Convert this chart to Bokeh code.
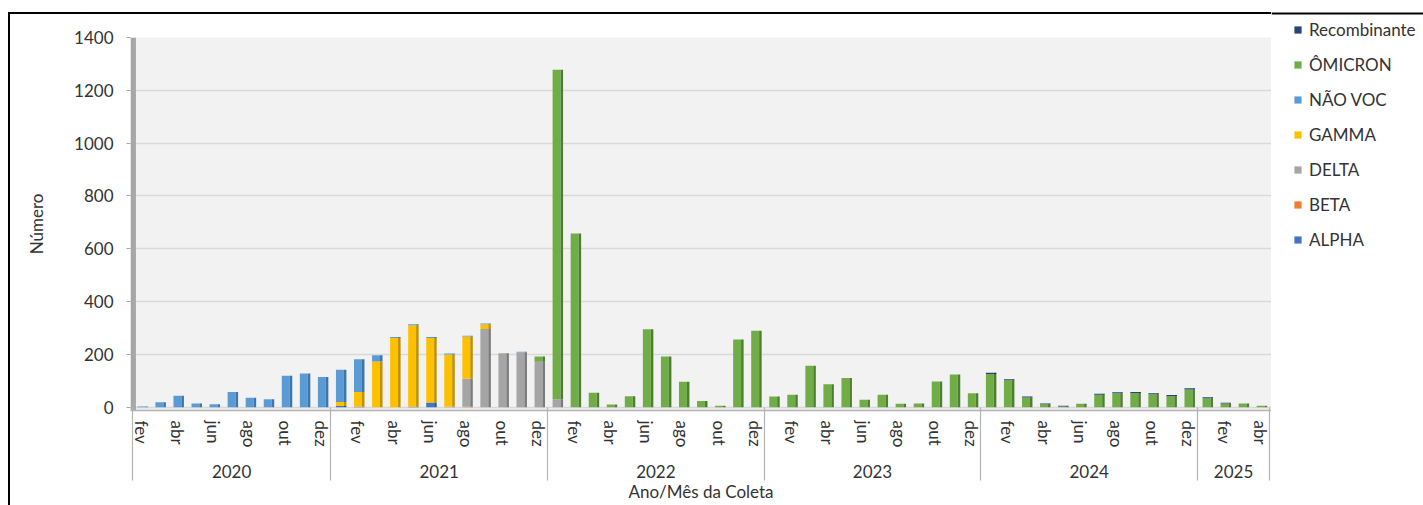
from bokeh.plotting import figure
from bokeh.layouts import row
from bokeh.models import ColumnDataSource, Range1d, FixedTicker, LinearAxis, Legend, LegendItem, Span
from bokeh.embed import file_html
from bokeh.resources import INLINE

# ---------------- data ----------------
anos = ["2020", "2021", "2022", "2023", "2024", "2025"]
meses_2020 = ["fev", "mar", "abr", "mai", "jun", "jul", "ago", "set", "out", "nov", "dez"]
meses_ano = ["jan", "fev", "mar", "abr", "mai", "jun", "jul", "ago", "set", "out", "nov", "dez"]
meses_2025 = ["jan", "fev", "mar", "abr"]
meses_rotulados = ["fev", "abr", "jun", "ago", "out", "dez"]

alpha = [0, 0, 0, 0, 0, 0, 0, 0, 0, 0, 0,
         5, 2, 0, 0, 2, 18, 0, 0, 0, 0, 0, 0,
         0, 0, 0, 0, 0, 0, 0, 0, 0, 0, 0, 0,
         0, 0, 0, 0, 0, 0, 0, 0, 0, 0, 0, 0,
         0, 0, 0, 0, 0, 0, 0, 0, 0, 0, 0, 0,
         0, 0, 0, 0]
beta = [0, 0, 0, 0, 0, 0, 0, 0, 0, 0, 0,
        0, 0, 0, 0, 0, 0, 0, 2, 0, 0, 0, 0,
        0, 0, 0, 0, 0, 0, 0, 0, 0, 0, 0, 0,
        0, 0, 0, 0, 0, 0, 0, 0, 0, 0, 0, 0,
        0, 0, 0, 0, 0, 0, 0, 0, 0, 0, 0, 0,
        0, 0, 0, 0]
delta = [0, 0, 0, 0, 0, 0, 0, 0, 0, 0, 0,
         0, 0, 0, 0, 0, 0, 2, 106, 296, 203, 208, 172,
         30, 0, 0, 0, 0, 0, 0, 0, 0, 0, 0, 0,
         0, 0, 0, 0, 0, 0, 0, 0, 0, 0, 0, 0,
         0, 0, 0, 0, 0, 0, 0, 0, 0, 0, 0, 0,
         0, 0, 0, 0]
gamma = [0, 0, 0, 0, 0, 0, 0, 0, 0, 0, 0,
         15, 56, 173, 262, 308, 244, 198, 160, 18, 1, 0, 0,
         0, 0, 0, 0, 0, 0, 0, 0, 0, 0, 0, 0,
         0, 0, 0, 0, 0, 0, 0, 0, 0, 0, 0, 0,
         0, 0, 0, 0, 0, 0, 0, 0, 0, 0, 0, 0,
         0, 0, 0, 0]
nao_voc = [3, 19, 43, 14, 11, 58, 36, 30, 119, 128, 114,
           122, 124, 24, 4, 4, 4, 3, 3, 3, 1, 2, 0,
           0, 0, 0, 0, 0, 0, 0, 0, 0, 0, 0, 0,
           0, 0, 0, 0, 0, 0, 0, 0, 0, 0, 0, 0,
           0, 0, 0, 0, 0, 0, 0, 0, 0, 0, 0, 0,
           0, 0, 0, 0]
omicron = [0, 0, 0, 0, 0, 0, 0, 0, 0, 0, 0,
           0, 0, 0, 0, 0, 0, 0, 0, 0, 0, 0, 20,
           1248, 658, 55, 10, 42, 295, 192, 96, 24, 6, 256, 290,
           41, 47, 157, 87, 111, 28, 47, 13, 14, 97, 124, 53,
           126, 102, 37, 11, 3, 13, 47, 53, 54, 49, 42, 67,
           34, 14, 14, 6]
recombinante = [0, 0, 0, 0, 0, 0, 0, 0, 0, 0, 0,
                0, 0, 0, 0, 0, 0, 0, 0, 0, 0, 0, 0,
                0, 0, 0, 0, 0, 0, 0, 0, 0, 0, 0, 0,
                0, 0, 0, 0, 0, 0, 0, 0, 0, 0, 0, 0,
                5, 4, 4, 3, 3, 0, 4, 4, 4, 4, 4, 5,
                4, 3, 0, 0]

series = ["alpha", "beta", "delta", "gamma", "nao_voc", "omicron", "recombinante"]
nomes = ["ALPHA", "BETA", "DELTA", "GAMMA", "NÃO VOC", "ÔMICRON", "Recombinante"]
cores = ["#4472C4", "#ED7D31", "#A5A5A5", "#FFC000", "#5B9BD5", "#70AD47", "#264478"]
cores_lado = ["#2F5597", "#B85F22", "#7B7B7B", "#BF9000", "#3F76A8", "#4E7F2F", "#17294A"]

# ---------------- layout helpers ----------------
meses_por_ano = [meses_2020, meses_ano, meses_ano, meses_ano, meses_ano, meses_2025]
rotulos = [m for grupo in meses_por_ano for m in grupo]
n = len(rotulos)
xs = list(range(n))

limites = [-0.5]
centros = []
ini = 0
for grupo in meses_por_ano:
    fim = ini + len(grupo) - 1
    centros.append((ini + fim) / 2)
    limites.append(fim + 0.5)
    ini = fim + 1

tick_mes = [i for i, m in enumerate(rotulos) if m in meses_rotulados]

source = ColumnDataSource(dict(
    x=xs, x_lado=[i + 0.29 for i in xs],
    alpha=alpha, beta=beta, delta=delta, gamma=gamma,
    nao_voc=nao_voc, omicron=omicron, recombinante=recombinante,
))

FONT = "Lato"
FS = "17px"
TXT = "#333333"
SEP = "#B4B4B4"

y0, y1 = -12.4, 1400
p = figure(width=1271, height=505,
           x_range=Range1d(-0.6, n - 1 + 0.6), y_range=Range1d(y0, y1),
           output_backend="svg", toolbar_location=None, title=None,
           min_border_left=130, min_border_right=0,
           min_border_top=37, min_border_bottom=95)
p.background_fill_color = "#F2F2F2"
p.border_fill_color = "white"
p.border_fill_alpha = 0
p.outline_line_color = None
p.styles = {"box-shadow": "inset 0 12px 0 0 #ffffff, inset 8px 0 0 0 #ffffff, "
                          "inset 10px 14px 0 0 #000000"}

# grid
yt = FixedTicker(ticks=[0, 200, 400, 600, 800, 1000, 1200, 1400])
p.ygrid.ticker = yt
p.ygrid.grid_line_color = "#D9D9D9"
p.ygrid.grid_line_width = 1.6
p.xgrid.visible = False

# left 3D wall
p.quad(left=-0.6, right=-0.3, bottom=y0, top=y1, fill_color="#A6A6A6", line_color=None)

# bars: front faces and darker side faces
frentes = p.vbar_stack(series, x="x", width=0.44, fill_color=cores, line_color=None, source=source)
p.vbar_stack(series, x="x_lado", width=0.14, fill_color=cores_lado, line_color=None, source=source)

# y axis
ya = p.yaxis[0]
ya.ticker = yt
ya.axis_line_color = None
ya.major_tick_out = 4
ya.major_tick_in = 0
ya.major_tick_line_color = "#A6A6A6"
ya.minor_tick_line_color = None
ya.major_label_standoff = 13
ya.major_label_text_font = FONT
ya.major_label_text_font_size = FS
ya.major_label_text_color = TXT
ya.axis_label = "Número"
ya.axis_label_text_font = FONT
ya.axis_label_text_font_size = FS
ya.axis_label_text_font_style = "normal"
ya.axis_label_text_color = TXT
ya.axis_label_standoff = 24

# x axis (months)
xa = p.xaxis[0]
xa.ticker = FixedTicker(ticks=tick_mes, minor_ticks=[])
xa.major_label_overrides = {i: rotulos[i] for i in tick_mes}
xa.major_label_orientation = "vertical"
xa.major_tick_in = 0
xa.major_tick_out = 0
xa.major_tick_line_color = None
xa.minor_tick_line_color = None
xa.axis_line_color = SEP
xa.axis_line_width = 1.5
xa.major_label_standoff = 10
xa.major_label_text_font = FONT
xa.major_label_text_font_size = FS
xa.major_label_text_color = TXT

# x axis (years)
xa2 = LinearAxis(ticker=FixedTicker(ticks=centros, minor_ticks=[]),
                 major_label_overrides={c: a for c, a in zip(centros, anos)})
xa2.axis_line_color = None
xa2.major_tick_line_color = None
xa2.minor_tick_line_color = None
xa2.major_tick_in = 0
xa2.major_tick_out = 0
xa2.major_label_standoff = 14
xa2.major_label_text_font = FONT
xa2.major_label_text_font_size = FS
xa2.major_label_text_color = TXT
p.add_layout(xa2, "below")

# x axis (group separators pointing up + title)
xa3 = LinearAxis(ticker=FixedTicker(ticks=[], minor_ticks=limites))
xa3.axis_line_color = None
xa3.major_tick_line_color = None
xa3.major_tick_in = 0
xa3.major_tick_out = 0
xa3.minor_tick_in = 73
xa3.minor_tick_out = 0
xa3.minor_tick_line_color = SEP
xa3.minor_tick_line_width = 1.2
xa3.major_label_standoff = 0
xa3.major_label_text_font_size = "0px"
xa3.axis_label = "Ano/Mês da Coleta"
xa3.axis_label_text_font = FONT
xa3.axis_label_text_font_size = FS
xa3.axis_label_text_font_style = "normal"
xa3.axis_label_text_color = TXT
xa3.axis_label_standoff = 0
p.add_layout(xa3, "below")

# ---------------- legend panel (own canvas, right of the chart) ----------------
q = figure(width=152, height=505, x_range=Range1d(0, 1), y_range=Range1d(0, 1),
           output_backend="svg", toolbar_location=None, title=None,
           x_axis_location=None, y_axis_location=None, min_border=0)
q.frame_align = False
q.grid.visible = False
q.outline_line_color = None
q.background_fill_alpha = 0
q.border_fill_color = "white"
q.border_fill_alpha = 0

# continuation of the chart's outer top border line
q.add_layout(Span(location=1 - 13 / 505, dimension="width", line_color="black", line_width=2))

# swatch renderers kept far outside this panel's ranges (legend glyphs only)
marcas = [q.vbar(x=[50], top=[-50], bottom=[-51], width=0.1, fill_color=c, line_color=None)
          for c in cores]
itens = [LegendItem(label=nomes[k], renderers=[marcas[k]]) for k in reversed(range(len(series)))]
leg = Legend(items=itens, location=(22, 255))
leg.padding = 0
leg.margin = 0
leg.spacing = 14
leg.label_height = 20
leg.glyph_height = 9
leg.glyph_width = 9
leg.label_standoff = 7
leg.label_text_font = FONT
leg.label_text_font_size = FS
leg.label_text_color = TXT
leg.border_line_color = None
leg.background_fill_alpha = 0
q.add_layout(leg, "center")

layout = row(p, q, spacing=0)
open("out.html", "w").write(file_html(layout, INLINE))
